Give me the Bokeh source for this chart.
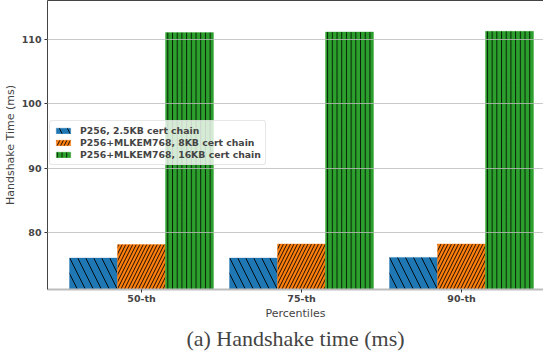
from bokeh.plotting import figure
from bokeh.models import (ColumnDataSource, Range1d, FixedTicker, LinearAxis,
                          Legend, LegendItem, Title)
from bokeh.embed import file_html
from bokeh.resources import INLINE

# ---- data ----
categories = ["50-th", "75-th", "90-th"]
p256_2_5kb = [76.0, 76.0, 76.1]
p256_mlkem_8kb = [78.1, 78.2, 78.2]
p256_mlkem_16kb = [111.1, 111.2, 111.3]
series_names = ["P256, 2.5KB cert chain",
                "P256+MLKEM768, 8KB cert chain",
                "P256+MLKEM768, 16KB cert chain"]
y_ticks = [80, 90, 100, 110]

colors = ["#1f77b4", "#ff7f0e", "#2ca02c"]
hatches = ["\\", "/", "|"]
hatch_scales = [16, 7, 4.7]
hatch_weights = [1, 1, 0.9]
offsets = [-0.3, 0.0, 0.3]
bar_w = 0.3

xs = list(range(len(categories)))

p = figure(width=543, height=352, output_backend="svg", toolbar_location=None,
           x_range=Range1d(-0.5875, 2.5125), y_range=Range1d(71.1, 116.1),
           min_border_left=20, min_border_right=0, min_border_top=0,
           min_border_bottom=0)
p.background_fill_color = "white"
p.border_fill_color = "white"
p.outline_line_color = None

renderers = []
for vals, c, h, hs, hw, off in zip([p256_2_5kb, p256_mlkem_8kb, p256_mlkem_16kb],
                                   colors, hatches, hatch_scales, hatch_weights, offsets):
    src = ColumnDataSource(dict(x=[x + off for x in xs], top=vals))
    r = p.vbar(x="x", top="top", bottom=71.1, width=bar_w, source=src,
               fill_color=c, line_color=c, line_alpha=0.35, line_width=1,
               hatch_pattern=h, hatch_color="black", hatch_scale=hs,
               hatch_weight=hw, hatch_alpha=0.9)
    renderers.append(r)

# axes
p.xaxis.ticker = FixedTicker(ticks=xs)
p.xaxis.major_label_overrides = {i: c for i, c in enumerate(categories)}
p.xaxis.axis_label = "Percentiles"
p.xaxis.axis_label_text_font = "DejaVu Sans"
p.xaxis.axis_label_text_font_style = "normal"
p.xaxis.axis_label_text_font_size = "11px"
p.xaxis.axis_label_standoff = 0
p.xaxis.major_label_text_font = "DejaVu Sans"
p.xaxis.major_label_text_font_style = "bold"
p.xaxis.major_label_text_font_size = "9.5px"
p.xaxis.major_label_standoff = 0
p.xaxis.axis_line_color = "#bdbdbd"
p.xaxis.axis_line_width = 2
p.xaxis.major_tick_line_color = "#333333"
p.xaxis.major_tick_in = 0
p.xaxis.major_tick_out = 3
p.xaxis.minor_tick_line_color = None

p.yaxis.ticker = FixedTicker(ticks=y_ticks)
p.yaxis.axis_label = "Handshake Time (ms)"
p.yaxis.axis_label_text_font = "DejaVu Sans"
p.yaxis.axis_label_text_font_style = "normal"
p.yaxis.axis_label_text_font_size = "11px"
p.yaxis.axis_label_standoff = 2
p.yaxis.major_label_text_font = "DejaVu Sans"
p.yaxis.major_label_text_font_style = "bold"
p.yaxis.major_label_text_font_size = "9.5px"
p.yaxis.major_label_standoff = 3
p.yaxis.axis_line_color = "#444444"
p.yaxis.major_tick_line_color = "#333333"
p.yaxis.major_tick_in = 0
p.yaxis.major_tick_out = 3
p.yaxis.minor_tick_line_color = None

top_axis = LinearAxis(ticker=FixedTicker(ticks=[]), major_tick_line_color=None,
                      minor_tick_line_color=None, axis_line_color="#444444",
                      major_label_standoff=0, major_tick_out=0)
p.add_layout(top_axis, "above")

p.xgrid.grid_line_color = None
p.ygrid.grid_line_color = "#bbbbbb"
p.ygrid.grid_line_alpha = 0.8
p.ygrid.level = "overlay"

legend = Legend(items=[LegendItem(label=n, renderers=[r]) for n, r in zip(series_names, renderers)],
                location=(2, 124))
legend.label_text_font = "DejaVu Sans"
legend.label_text_font_style = "bold"
legend.label_text_font_size = "9.3px"
legend.label_height = 11
legend.label_standoff = 8
legend.glyph_width = 18
legend.glyph_height = 7
legend.spacing = 1
legend.padding = 4
legend.margin = 0
legend.border_line_color = "#d0d0d0"
legend.border_radius = 3
legend.background_fill_alpha = 0.8
p.add_layout(legend, "center")

cap = Title(text="(a) Handshake time (ms)", align="center", text_font="Liberation Serif",
            text_font_size="22px", text_font_style="normal", offset=-14,
            standoff=3, vertical_align="bottom")
p.add_layout(cap, "below")

open("out.html", "w").write(file_html(p, INLINE))
